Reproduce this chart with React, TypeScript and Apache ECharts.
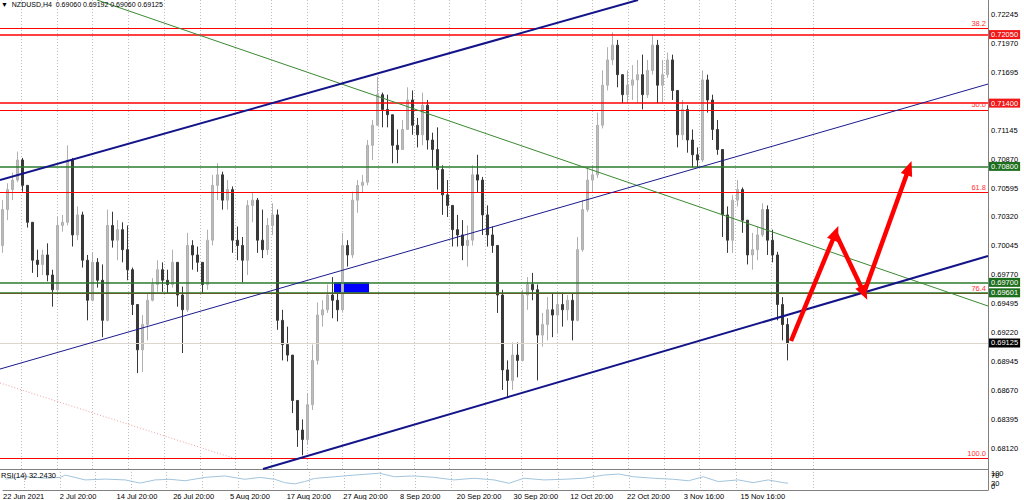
import React, { useEffect, useRef } from 'react';
import * as echarts from 'echarts';

const FONT = 'Liberation Sans';

// Aggregated NZDUSD H4 candles (each ~4 H4 bars)
const opens = [
  0.7005, 0.7039, 0.7058, 0.7067, 0.7086, 0.7062, 0.7027, 0.6991, 0.6987, 0.6996,
  0.6977, 0.6963, 0.7024, 0.7027, 0.7086, 0.7015, 0.7034, 0.6991, 0.6953, 0.6989,
  0.6972, 0.6934, 0.7024, 0.7010, 0.7020, 0.7001, 0.6982, 0.6949, 0.6906, 0.6930,
  0.6953, 0.6968, 0.6982, 0.6972, 0.6968, 0.6989, 0.6958, 0.6944, 0.7005, 0.6996,
  0.6989, 0.6968, 0.7010, 0.7062, 0.7072, 0.7048, 0.7058, 0.7010, 0.7005, 0.6991,
  0.7043, 0.7048, 0.7010, 0.7001, 0.7024, 0.7034, 0.6934, 0.6911, 0.6901, 0.6858,
  0.6830, 0.6821, 0.6854, 0.6896, 0.6939, 0.6944, 0.6958, 0.6953, 0.6944, 0.7005,
  0.6996, 0.7048, 0.7062, 0.7065, 0.7100, 0.7119, 0.7148, 0.7134, 0.7129, 0.7100,
  0.7096, 0.7115, 0.7143, 0.7119, 0.7110, 0.7138, 0.7105, 0.7096, 0.7077, 0.7053,
  0.7043, 0.7020, 0.7015, 0.7005, 0.7010, 0.7072, 0.7067, 0.7034, 0.7015, 0.7005,
  0.6958, 0.6887, 0.6877, 0.6901, 0.6896, 0.6958, 0.6968, 0.6963, 0.6920, 0.6930,
  0.6944, 0.6939, 0.6949, 0.6944, 0.6953, 0.6934, 0.7001, 0.7039, 0.7067, 0.7072,
  0.7119, 0.7157, 0.7181, 0.7195, 0.7167, 0.7148, 0.7157, 0.7162, 0.7167, 0.7148,
  0.7171, 0.7195, 0.7157, 0.7167, 0.7181, 0.7152, 0.7110, 0.7134, 0.7105, 0.7091,
  0.7086, 0.7162, 0.7143, 0.7115, 0.7096, 0.7034, 0.7010, 0.7048, 0.7058, 0.7029,
  0.6996, 0.7001, 0.7015, 0.7039, 0.7010, 0.6996, 0.6949, 0.6930,
];
const closes = [
  0.7039, 0.7058, 0.7067, 0.7086, 0.7062, 0.7027, 0.6991, 0.6987, 0.6996, 0.6977,
  0.6963, 0.7024, 0.7027, 0.7086, 0.7015, 0.7034, 0.6991, 0.6953, 0.6989, 0.6972,
  0.6934, 0.7024, 0.7010, 0.7020, 0.7001, 0.6982, 0.6949, 0.6906, 0.6930, 0.6953,
  0.6968, 0.6982, 0.6972, 0.6968, 0.6989, 0.6958, 0.6944, 0.7005, 0.6996, 0.6989,
  0.6968, 0.7010, 0.7062, 0.7072, 0.7048, 0.7058, 0.7010, 0.7005, 0.6991, 0.7043,
  0.7048, 0.7010, 0.7001, 0.7024, 0.7034, 0.6934, 0.6911, 0.6901, 0.6858, 0.6830,
  0.6821, 0.6854, 0.6896, 0.6939, 0.6944, 0.6958, 0.6953, 0.6944, 0.7005, 0.6996,
  0.7048, 0.7062, 0.7065, 0.7100, 0.7119, 0.7148, 0.7134, 0.7129, 0.7100, 0.7096,
  0.7115, 0.7143, 0.7119, 0.7110, 0.7138, 0.7105, 0.7096, 0.7077, 0.7053, 0.7043,
  0.7020, 0.7015, 0.7005, 0.7010, 0.7072, 0.7067, 0.7034, 0.7015, 0.7005, 0.6958,
  0.6887, 0.6877, 0.6901, 0.6896, 0.6958, 0.6968, 0.6963, 0.6920, 0.6930, 0.6944,
  0.6939, 0.6949, 0.6944, 0.6953, 0.6934, 0.7001, 0.7039, 0.7067, 0.7072, 0.7119,
  0.7157, 0.7181, 0.7195, 0.7167, 0.7148, 0.7157, 0.7162, 0.7167, 0.7148, 0.7171,
  0.7195, 0.7157, 0.7167, 0.7181, 0.7152, 0.7110, 0.7134, 0.7105, 0.7091, 0.7086,
  0.7162, 0.7143, 0.7115, 0.7096, 0.7034, 0.7010, 0.7048, 0.7058, 0.7029, 0.6996,
  0.7001, 0.7015, 0.7039, 0.7010, 0.6996, 0.6949, 0.6930, 0.69125,
];
const highs = [
  0.7048, 0.7064, 0.7074, 0.7094, 0.7088, 0.7062, 0.7027, 0.7001, 0.7001, 0.7007,
  0.6982, 0.7032, 0.7034, 0.7100, 0.7088, 0.7042, 0.7037, 0.6996, 0.6998, 0.6993,
  0.6987, 0.7039, 0.7037, 0.7029, 0.7027, 0.7024, 0.6984, 0.6949, 0.6939, 0.6960,
  0.6974, 0.6991, 0.6989, 0.6982, 0.7001, 0.6989, 0.6966, 0.7017, 0.7010, 0.7004,
  0.6989, 0.7020, 0.7072, 0.7083, 0.7075, 0.7067, 0.7061, 0.7023, 0.7013, 0.7048,
  0.7055, 0.7050, 0.7039, 0.7031, 0.7045, 0.7039, 0.6944, 0.6928, 0.6901, 0.6858,
  0.6840, 0.6865, 0.6911, 0.6951, 0.6953, 0.6968, 0.6975, 0.6960, 0.7017, 0.7010,
  0.7056, 0.7067, 0.7072, 0.7105, 0.7124, 0.7165, 0.7150, 0.7148, 0.7129, 0.7115,
  0.7124, 0.7155, 0.7152, 0.7126, 0.7150, 0.7143, 0.7112, 0.7117, 0.7081, 0.7067,
  0.7043, 0.7034, 0.7029, 0.7024, 0.7081, 0.7091, 0.7070, 0.7043, 0.7023, 0.7005,
  0.6963, 0.6896, 0.6913, 0.6913, 0.6963, 0.6975, 0.6979, 0.6968, 0.6941, 0.6956,
  0.6960, 0.6958, 0.6960, 0.6958, 0.6960, 0.7013, 0.7048, 0.7079, 0.7081, 0.7131,
  0.7171, 0.7193, 0.7207, 0.7200, 0.7167, 0.7171, 0.7176, 0.7181, 0.7186, 0.7181,
  0.7205, 0.7200, 0.7181, 0.7188, 0.7186, 0.7152, 0.7143, 0.7138, 0.7115, 0.7098,
  0.7171, 0.7167, 0.7148, 0.7124, 0.7096, 0.7042, 0.7053, 0.7067, 0.7060, 0.7029,
  0.7017, 0.7023, 0.7045, 0.7043, 0.7020, 0.6999, 0.6956, 0.6936,
];
const lows = [
  0.6998, 0.7029, 0.7048, 0.7065, 0.7056, 0.7022, 0.6979, 0.6975, 0.6977, 0.6971,
  0.6947, 0.6961, 0.7018, 0.7024, 0.7004, 0.7010, 0.6984, 0.6934, 0.6952, 0.6965,
  0.6918, 0.6933, 0.7003, 0.6991, 0.6989, 0.6972, 0.6939, 0.6884, 0.6885, 0.6915,
  0.6952, 0.6961, 0.6961, 0.6960, 0.6965, 0.6947, 0.6903, 0.6942, 0.6982, 0.6980,
  0.6960, 0.6963, 0.7005, 0.7048, 0.7039, 0.7039, 0.6998, 0.6991, 0.6970, 0.6977,
  0.7027, 0.6998, 0.6993, 0.6996, 0.7015, 0.6925, 0.6896, 0.6895, 0.6846, 0.6814,
  0.6806, 0.6816, 0.6849, 0.6892, 0.6928, 0.6941, 0.6936, 0.6933, 0.6942, 0.6985,
  0.6993, 0.7036, 0.7055, 0.7062, 0.7086, 0.7119, 0.7117, 0.7117, 0.7083, 0.7083,
  0.7096, 0.7115, 0.7110, 0.7098, 0.7100, 0.7096, 0.7079, 0.7058, 0.7034, 0.7032,
  0.7004, 0.7004, 0.6991, 0.6985, 0.7005, 0.7055, 0.7015, 0.7004, 0.6998, 0.6941,
  0.6868, 0.6861, 0.6868, 0.6880, 0.6895, 0.6944, 0.6953, 0.6877, 0.6909, 0.6915,
  0.6918, 0.6922, 0.6928, 0.6934, 0.6915, 0.6933, 0.6999, 0.7037, 0.7055, 0.7069,
  0.7116, 0.7152, 0.7176, 0.7155, 0.7140, 0.7140, 0.7143, 0.7140, 0.7134, 0.7145,
  0.7167, 0.7140, 0.7140, 0.7164, 0.7143, 0.7098, 0.7105, 0.7093, 0.7079, 0.7079,
  0.7084, 0.7131, 0.7105, 0.7091, 0.7013, 0.6998, 0.6998, 0.7042, 0.7017, 0.6987,
  0.6982, 0.6991, 0.7013, 0.6996, 0.6989, 0.6934, 0.6915, 0.6896,
];

// RSI(14) readings at candle indices
const rsiIndex = [0, 4, 8, 11, 12, 16, 20, 24, 27, 30, 33, 36, 40, 44, 48, 51, 54, 56, 58, 60, 62, 66, 70, 75, 78, 82, 86, 90, 94, 98, 101, 104, 108, 112, 116, 120, 123, 126, 130, 134, 137, 140, 143, 147, 150, 153, 156, 157];
const rsiValues = [52, 64, 56, 60, 71, 48, 52, 48, 33, 48, 51, 44, 60, 67, 51, 60, 51, 35, 29, 40, 55, 63, 71, 80, 63, 67, 60, 48, 56, 48, 32, 56, 48, 51, 56, 71, 76, 63, 56, 51, 44, 63, 40, 48, 35, 48, 35, 32.243];

// Axis texts
const priceTicks = [0.6812, 0.68395, 0.6867, 0.68945, 0.6922, 0.69495, 0.6977, 0.70045, 0.7032, 0.70595, 0.7087, 0.71145, 0.7142, 0.71695, 0.7197, 0.72245];
const timeLabels = ['22 Jun 2021', '2 Jul 20:00', '14 Jul 20:00', '26 Jul 20:00', '5 Aug 20:00', '17 Aug 20:00', '27 Aug 20:00', '8 Sep 20:00', '20 Sep 20:00', '30 Sep 20:00', '12 Oct 20:00', '22 Oct 20:00', '3 Nov 16:00', '15 Nov 16:00'];
const timeLabelPos = [-0.5, 10.88, 22.26, 33.64, 45.02, 56.4, 67.78, 79.16, 90.54, 101.92, 113.3, 124.68, 136.06, 147.44];
const gridPos = [3.76, 10.9, 18.04, 25.18, 32.32, 39.46, 46.6, 53.74, 60.88, 68.02, 75.16, 82.3, 89.44, 96.58, 103.72, 110.86, 118.0, 125.14, 132.28, 139.42, 146.56, 153.7, 162.1];

// Fibonacci levels
const fibLabels = ['38.2', '50.0', '61.8', '76.4', '100.0'];
const fibPrices = [0.72112, 0.71335, 0.70557, 0.69599, 0.68034];
// Horizontal levels
const redLevels = [0.7205, 0.714];
const greenLevels = [0.708, 0.697, 0.69601];
const lastPrice = 0.69125;

// Trend lines [x1, p1, x2, p2]
const channelUpper = [-0.5, 0.70671, 127.1, 0.72378];
const channelMiddle = [-0.5, 0.68878, 197.1, 0.71581];
const channelLower = [52.1, 0.6793, 197.1, 0.6995];
const greenTrend = [18.9, 0.72378, 197.1, 0.69476];
const fibBase = [-0.5, 0.68746, 46.1, 0.68034];
// Blue zone [x1, p1, x2, p2]
const blueZone = [66.3, 0.697, 73.3, 0.69601];
// Projection arrows (points)
const arrowX = [157.7, 166.6, 172.3, 181.3];
const arrowP = [0.69144, 0.70168, 0.69599, 0.70785];

const txt = { fontFamily: FONT, fontSize: 7.5, color: '#000' };

export default function App() {
  const ref = useRef<HTMLDivElement>(null);
  useEffect(() => {
    const chart = echarts.init(ref.current!, null, { renderer: 'svg' });
    const candleData = opens.map((o, i) => [i, o, closes[i], lows[i], highs[i]]);
    const seg = (a: number[], style: any) => [
      { coord: [a[0], a[1]], lineStyle: style, label: { show: false } },
      { coord: [a[2], a[3]] },
    ];
    const boxLabel = (text: string, bg: string) => ({
      show: true, position: 'end', formatter: text, distance: 1,
      backgroundColor: bg, color: '#fff', padding: [1, 2, 0, 2],
      fontFamily: FONT, fontSize: 7.5,
    });
    const markLines: any[] = [];
    fibPrices.forEach((p, i) => markLines.push({
      yAxis: p, lineStyle: { color: '#ff0000', width: 1, type: 'solid' },
      label: { show: true, position: 'insideEndTop', formatter: fibLabels[i], color: '#ff3030', fontFamily: FONT, fontSize: 7.5, distance: [2, 1] },
    }));
    redLevels.forEach((p) => markLines.push({
      yAxis: p, lineStyle: { color: '#ff0000', width: 1.5, type: 'solid' },
      label: boxLabel(p.toFixed(5), '#f01818'),
    }));
    greenLevels.forEach((p) => markLines.push({
      yAxis: p, lineStyle: { color: '#2b7a2b', width: 1.5, type: 'solid' },
      label: boxLabel(p.toFixed(5), '#1d6f1d'),
    }));
    markLines.push({
      yAxis: lastPrice, lineStyle: { color: '#ddd6cc', width: 1, type: 'solid' },
      label: boxLabel(lastPrice.toFixed(5), '#000'),
    });
    markLines.push(seg(fibBase, { color: '#f0a0a0', width: 1, type: [1, 2] }));
    markLines.push(seg(greenTrend, { color: '#3a8a30', width: 1, type: 'solid' }));
    markLines.push(seg(channelMiddle, { color: '#1a1a8c', width: 1, type: 'solid' }));
    markLines.push(seg(channelUpper, { color: '#14148a', width: 2, type: 'solid' }));
    markLines.push(seg(channelLower, { color: '#14148a', width: 2, type: 'solid' }));

    const arrows: any[] = [];
    for (let i = 0; i < arrowX.length - 1; i++) {
      arrows.push([
        { coord: [arrowX[i], arrowP[i]], lineStyle: { color: '#ff0000', width: 4.5, type: 'solid' }, label: { show: false }, symbol: 'none' },
        { coord: [arrowX[i + 1], arrowP[i + 1]], symbol: 'triangle', symbolSize: [12, 15] },
      ]);
    }

    const option: any = {
      animation: false,
      backgroundColor: '#ffffff',
      textStyle: { fontFamily: FONT },
      title: [
        { text: '▼  NZDUSD,H4  0.69060 0.69192 0.69060 0.69125', left: 1, top: 1, padding: 0, textStyle: { ...txt, fontSize: 7, fontWeight: 'normal' } },
        { text: 'RSI(14) 32.2430', left: 1, top: 471, padding: 0, textStyle: { ...txt, fontWeight: 'normal' } },
      ],
      grid: [
        { left: 0, top: 0, width: 988, height: 469 },
        { left: 0, top: 469, width: 988, height: 21 },
      ],
      xAxis: [
        {
          type: 'value', gridIndex: 0, min: -0.5, max: 197.1,
          axisLine: { show: true, onZero: false, lineStyle: { color: '#808080', width: 1 } },
          axisTick: { show: false, customValues: gridPos },
          axisLabel: { show: false },
          splitLine: { show: true, lineStyle: { color: '#bdbdbd', width: 1, type: [1, 2] } },
        },
        {
          type: 'value', gridIndex: 1, min: -0.5, max: 197.1,
          axisLine: { show: true, onZero: false, lineStyle: { color: '#808080', width: 1 } },
          axisTick: { show: false, customValues: gridPos },
          axisLabel: {
            show: true, customValues: timeLabelPos, align: 'left', margin: 2, ...txt,
            formatter: (v: number) => {
              const i = timeLabelPos.findIndex((p) => Math.abs(p - v) < 0.01);
              return i >= 0 ? timeLabels[i] : '';
            },
          },
          splitLine: { show: true, lineStyle: { color: '#bdbdbd', width: 1, type: [1, 2] } },
        },
      ],
      yAxis: [
        {
          type: 'value', gridIndex: 0, position: 'right', min: 0.6793, max: 0.72378,
          axisLine: { show: true, onZero: false, lineStyle: { color: '#808080', width: 1 } },
          axisTick: { show: false },
          axisLabel: { customValues: priceTicks, formatter: (v: number) => v.toFixed(5), margin: 3, ...txt },
          splitLine: { show: false },
        },
        {
          type: 'value', gridIndex: 1, position: 'right', min: 0, max: 100,
          axisLine: { show: true, onZero: false, lineStyle: { color: '#808080', width: 1 } },
          axisTick: { show: false },
          axisLabel: { customValues: [70, 30], margin: 3, ...txt },
          splitLine: { show: false },
        },
        {
          type: 'value', gridIndex: 1, position: 'right', min: 0, max: 100,
          axisLine: { show: false, onZero: false },
          axisTick: { show: false },
          axisLabel: { customValues: [100], margin: 3, verticalAlign: 'top', ...txt },
          splitLine: { show: false },
        },
        {
          type: 'value', gridIndex: 1, position: 'right', min: 0, max: 100,
          axisLine: { show: false, onZero: false },
          axisTick: { show: false },
          axisLabel: { customValues: [0], margin: 3, verticalAlign: 'bottom', ...txt },
          splitLine: { show: false },
        },
      ],
      series: [
        {
          type: 'candlestick', xAxisIndex: 0, yAxisIndex: 0,
          data: candleData, encode: { x: 0, y: [1, 2, 3, 4] },
          barWidth: 2,
          itemStyle: { color: '#bcbcbc', color0: '#383838', borderColor: '#b0b0b0', borderColor0: '#383838', borderWidth: 1 },
        },
        {
          type: 'line', xAxisIndex: 0, yAxisIndex: 0, data: [], silent: true,
          markArea: {
            silent: true, itemStyle: { color: '#0000ff', opacity: 1 },
            data: [[{ coord: [blueZone[0], blueZone[1]] }, { coord: [blueZone[2], blueZone[3]] }]],
          },
        },
        {
          type: 'line', xAxisIndex: 0, yAxisIndex: 0, data: [], silent: true,
          markLine: { silent: true, precision: 6, symbol: ['none', 'none'], animation: false, data: markLines },
        },
        {
          type: 'line', xAxisIndex: 0, yAxisIndex: 0, data: [], silent: true,
          markLine: { silent: true, precision: 6, animation: false, data: arrows, itemStyle: { color: '#ff0000' } },
        },
        {
          type: 'line', xAxisIndex: 1, yAxisIndex: 1, silent: true,
          data: rsiIndex.map((k, i) => [k, rsiValues[i]]),
          symbol: 'none', lineStyle: { color: '#a3c4dc', width: 1 },
        },
      ],
    };
    chart.setOption(option);
    return () => chart.dispose();
  }, []);
  return <div ref={ref} style={{ position: 'absolute', left: 0, top: 0, width: 1024, height: 500, background: '#fff' }} />;
}
